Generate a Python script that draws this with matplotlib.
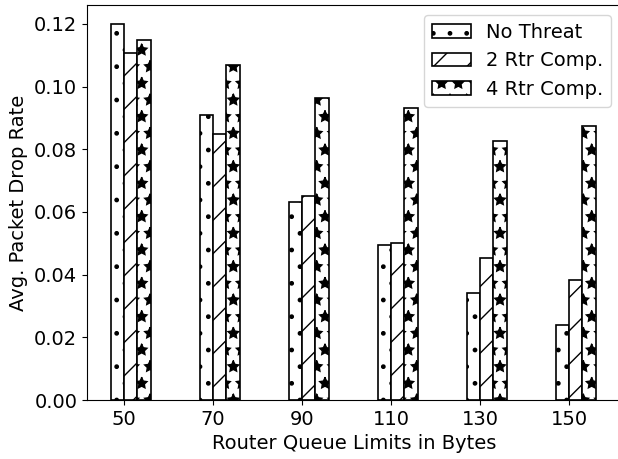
import numpy as np
import matplotlib.pyplot as plt

queue_limits = [50, 70, 90, 110, 130, 150]
no_threat = [0.1200, 0.0908, 0.0632, 0.0493, 0.0341, 0.0240]
rtr2_comp = [0.1108, 0.0850, 0.0650, 0.0501, 0.0453, 0.0384]
rtr4_comp = [0.1150, 0.1070, 0.0963, 0.0932, 0.0826, 0.0875]

labels = ['No Threat', '2 Rtr Comp.', '4 Rtr Comp.']
hatches = ['.', '/', '*']

plt.rcParams['font.size'] = 14

fig = plt.figure(figsize=(6.18, 4.59), dpi=100)
# right spine sits just past the figure edge
ax = fig.add_axes([0.1408, 0.1285, 0.864, 0.8605])
ax.spines['right'].set_visible(False)

x = np.arange(len(queue_limits))
width = 0.15
# tick falls on the left edge of the middle bar
for i, (vals, lab, h) in enumerate(zip([no_threat, rtr2_comp, rtr4_comp], labels, hatches)):
    ax.bar(x + (i - 1) * width, vals, width, align='edge', color='white',
           edgecolor='black', hatch=h, label=lab, linewidth=1.2)

ax.set_xticks(x)
ax.set_xticklabels(queue_limits)
ax.set_xlim(-0.416, 5.584)
ax.set_ylim(0, 0.126)
ax.set_yticks(np.arange(0, 0.121, 0.02))
ax.set_xlabel('Router Queue Limits in Bytes')
ax.set_ylabel('Avg. Packet Drop Rate')
ax.legend(loc='upper right')

fig.savefig('out.png', dpi=100)
